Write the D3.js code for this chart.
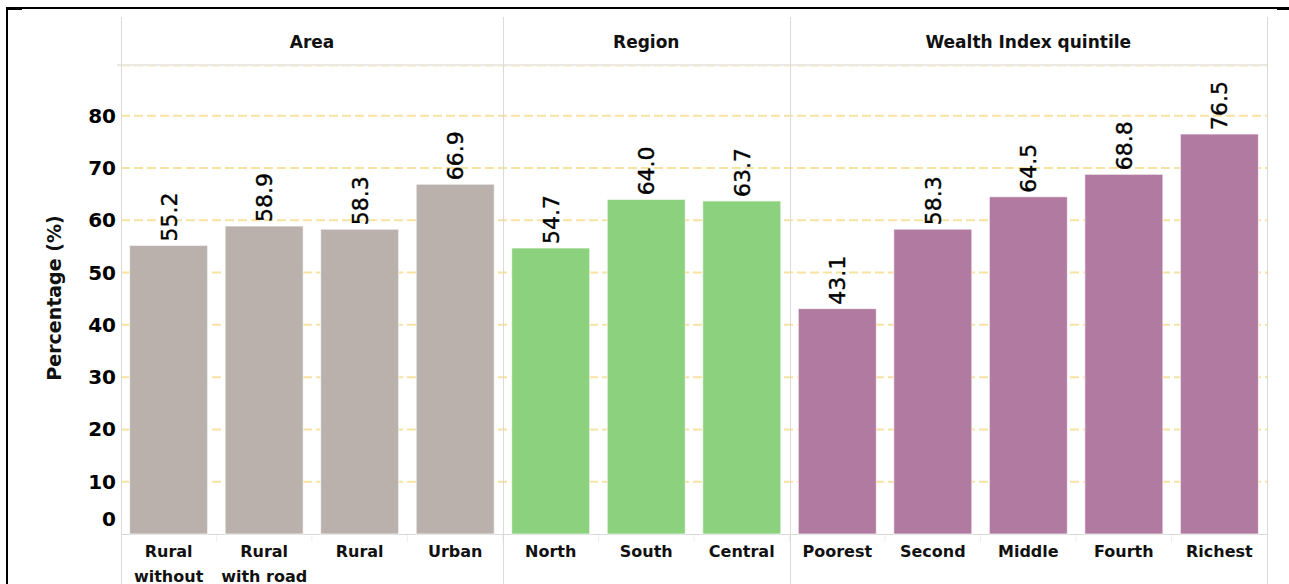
<!DOCTYPE html>
<html>
<head>
<meta charset="utf-8">
<script src="https://cdn.jsdelivr.net/npm/d3@7"></script>
<style>
	body { margin: 0; background: #fff; }
	svg { display: block; }
	.tick-label { font-family: "DejaVu Sans", sans-serif; font-weight: bold; font-size: 20px; fill: #000; }
	.cat-label { font-family: "DejaVu Sans", sans-serif; font-weight: bold; font-size: 16px; fill: #111; }
	.head-label { font-family: "DejaVu Sans", sans-serif; font-weight: bold; font-size: 17px; fill: #111; }
	.val-label { font-family: "DejaVu Sans", sans-serif; font-size: 22px; fill: #000; stroke: #000; stroke-width: 0.4px; }
	.y-title { font-family: "DejaVu Sans", sans-serif; font-weight: bold; font-size: 19px; fill: #111; }
</style>
</head>
<body>
<div class="chart"></div>
<script>
var panels = ["Area", "Region", "Wealth Index quintile"];
var categories = ["Rural without road", "Rural with road", "Rural", "Urban",
	"North", "South", "Central",
	"Poorest", "Second", "Middle", "Fourth", "Richest"];
var groups = ["Area", "Area", "Area", "Area",
	"Region", "Region", "Region",
	"Wealth Index quintile", "Wealth Index quintile", "Wealth Index quintile", "Wealth Index quintile", "Wealth Index quintile"];
var values = [55.2, 58.9, 58.3, 66.9, 54.7, 64.0, 63.7, 43.1, 58.3, 64.5, 68.8, 76.5];
var yTicks = [0, 10, 20, 30, 40, 50, 60, 70, 80];
var yTitle = "Percentage (%)";

var width = 1289, height = 584;
var left = 121, right = 1267, headTop = 17, paneTop = 65, base = 534;

var svg = d3.select(".chart").append("svg")
	.attr("width", width)
	.attr("height", height);

var x = d3.scaleBand()
	.domain(categories)
	.range([left, right])
	.paddingInner(0.183)
	.paddingOuter(0.09);

var y = d3.scaleLinear()
	.domain([0, 89.7])
	.range([base, paneTop]);

var color = d3.scaleOrdinal()
	.domain(panels)
	.range(["#bab0ac", "#8cd17d", "#b07aa1"]);

var step = x.step();

//panel extents: each category takes one step
var panelData = panels.map(function(p) {
	var cats = categories.filter(function(c, i) { return groups[i] === p; });
	var i0 = categories.indexOf(cats[0]);
	var x0 = left + i0 * (right - left) / categories.length;
	return {name: p, cats: cats, x0: x0, x1: x0 + cats.length * (right - left) / categories.length};
});

//gridlines
svg.append("g").selectAll("line")
	.data(yTicks.filter(function(t) { return t > 0; }))
	.join("line")
	.attr("x1", left)
	.attr("x2", right)
	.attr("y1", function(d) { return y(d); })
	.attr("y2", function(d) { return y(d); })
	.attr("stroke", "#f8e2a2")
	.attr("stroke-width", 2)
	.attr("stroke-dasharray", "9,4");

//header bottom line
svg.append("line")
	.attr("x1", left - 4).attr("x2", right)
	.attr("y1", paneTop).attr("y2", paneTop)
	.attr("stroke", "#d6d3cc").attr("stroke-width", 1);
svg.append("line")
	.attr("x1", left).attr("x2", right)
	.attr("y1", paneTop + 1).attr("y2", paneTop + 1)
	.attr("stroke", "#f7e8bd").attr("stroke-width", 1)
	.attr("stroke-dasharray", "9,4");

//baseline
svg.append("line")
	.attr("x1", left).attr("x2", right)
	.attr("y1", y(0) + 0.5).attr("y2", y(0) + 0.5)
	.attr("stroke", "#d9d9d9").attr("stroke-width", 1);

//faint category separators under axis
svg.append("g").selectAll("line")
	.data(categories.slice(1))
	.join("line")
	.attr("x1", function(d) { return x(d) - x.paddingInner() * step / 2; })
	.attr("x2", function(d) { return x(d) - x.paddingInner() * step / 2; })
	.attr("y1", base + 1)
	.attr("y2", base + 8)
	.attr("stroke", "#efefef");

//panel dividers
var dividers = [left].concat(panelData.map(function(d) { return d.x1; }));
svg.append("g").selectAll("line")
	.data(dividers)
	.join("line")
	.attr("x1", function(d) { return Math.round(d) + 0.5; })
	.attr("x2", function(d) { return Math.round(d) + 0.5; })
	.attr("y1", headTop)
	.attr("y2", height)
	.attr("stroke", "#dadada");

//header labels
svg.append("g").selectAll("text")
	.data(panelData)
	.join("text")
	.attr("class", "head-label")
	.attr("x", function(d) { return (d.x0 + d.x1) / 2; })
	.attr("y", 48)
	.attr("text-anchor", "middle")
	.text(function(d) { return d.name; });

//bars
svg.append("g").selectAll("rect")
	.data(values)
	.join("rect")
	.attr("x", function(d, i) { return x(categories[i]); })
	.attr("width", x.bandwidth())
	.attr("y", function(d) { return y(d); })
	.attr("height", function(d) { return y(0) - y(d); })
	.attr("fill", function(d, i) { return color(groups[i]); })
	.attr("stroke", "rgba(255,255,255,0.7)")
	.attr("stroke-width", 1);

//value labels (rotated)
svg.append("g").selectAll("text")
	.data(values)
	.join("text")
	.attr("class", "val-label")
	.attr("transform", function(d, i) {
		return "translate(" + (x(categories[i]) + x.bandwidth() / 2 + 8) + "," + (y(d) - 4) + ") rotate(-90)";
	})
	.attr("text-anchor", "start")
	.text(function(d) { return d.toFixed(1); });

//y tick labels
svg.append("g").selectAll("text")
	.data(yTicks)
	.join("text")
	.attr("class", "tick-label")
	.attr("x", left - 5)
	.attr("y", function(d) { return d === 0 ? y(d) - 15 : y(d); })
	.attr("dy", "0.35em")
	.attr("text-anchor", "end")
	.text(function(d) { return d; });

//y title
svg.append("text")
	.attr("class", "y-title")
	.attr("transform", "translate(" + 61 + "," + 298 + ") rotate(-90)")
	.attr("text-anchor", "middle")
	.text(yTitle);

//category labels with wrapping
function wrap(sel, maxw) {
	sel.each(function(d) {
		var t = d3.select(this),
			words = d.split(" "),
			line = [],
			tspan = t.append("tspan").attr("x", t.attr("x")).attr("dy", 0);
		words.forEach(function(w) {
			line.push(w);
			tspan.text(line.join(" "));
			if (tspan.node().getComputedTextLength() > maxw && line.length > 1) {
				line.pop();
				tspan.text(line.join(" "));
				line = [w];
				tspan = t.append("tspan").attr("x", t.attr("x")).attr("dy", 25).text(w);
			}
		});
	});
}

svg.append("g").selectAll("text")
	.data(categories)
	.join("text")
	.attr("class", "cat-label")
	.attr("x", function(d) { return x(d) + x.bandwidth() / 2; })
	.attr("y", 557)
	.attr("text-anchor", "middle")
	.call(wrap, 90);

//outer frame pieces
svg.append("path")
	.attr("d", "M7,584 L7,8 L1277,8")
	.attr("fill", "none")
	.attr("stroke", "#000")
	.attr("stroke-width", 2);
svg.append("rect").attr("x", 6).attr("y", 7).attr("width", 16).attr("height", 3).attr("fill", "#000");
svg.append("rect").attr("x", 1277).attr("y", 7).attr("width", 12).attr("height", 3).attr("fill", "#000");
</script>
</body>
</html>
